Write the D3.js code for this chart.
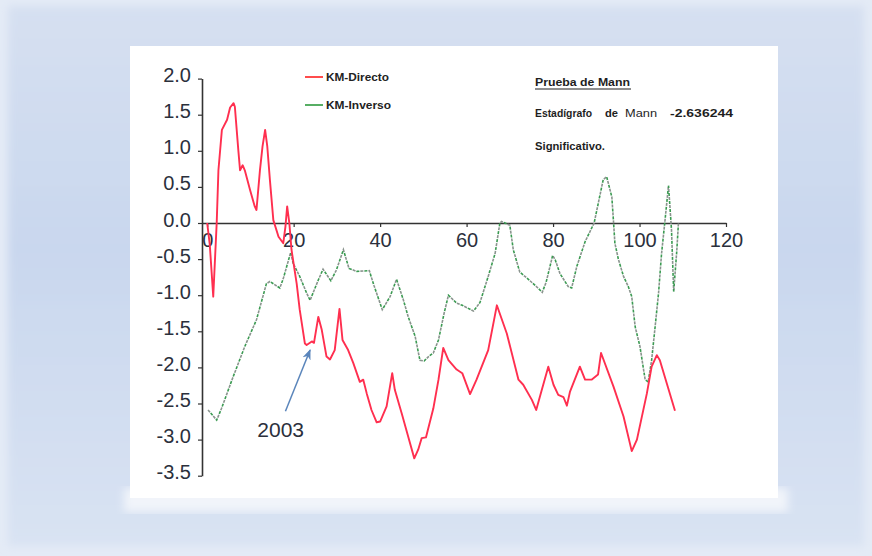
<!DOCTYPE html>
<html>
<head>
<meta charset="utf-8">
<script src="https://cdn.jsdelivr.net/npm/d3@7"></script>
<style>
  html, body { margin: 0; padding: 0; background: #e4ebf6; }
  svg { display: block; }
  text { font-family: "Liberation Sans", Arial, sans-serif; }
</style>
</head>
<body>
<svg id="chart" width="872" height="556"></svg>
<script>
// Mann-Kendall sequential statistics: forward (KM-Directo) and backward (KM-Inverso)
const kmDirecto = [
  [0, 0.0], [0.6, -0.3], [1.4, -1.02], [2.2, 0.0], [2.6, 0.73], [3.4, 1.29], [4.6, 1.43],
  [5.3, 1.6], [6.1, 1.66], [6.4, 1.61], [7.2, 1.01], [7.6, 0.73], [8.2, 0.8], [8.7, 0.73],
  [9.9, 0.46], [11.0, 0.23], [11.4, 0.18], [12.2, 0.73], [12.8, 1.06], [13.4, 1.29],
  [13.9, 1.06], [14.5, 0.6], [15.3, 0.04], [16.5, -0.19], [17.6, -0.28], [18.1, -0.05],
  [18.5, 0.23], [19.0, 0.0], [19.5, -0.37], [20.7, -0.84], [21.4, -1.2], [22.6, -1.67],
  [23.0, -1.69], [24.2, -1.64], [24.7, -1.66], [25.7, -1.30], [26.5, -1.48], [27.6, -1.85],
  [28.4, -1.89], [29.5, -1.76], [30.6, -1.19], [31.3, -1.62], [32.6, -1.76], [33.8, -1.94],
  [35.3, -2.2], [36.1, -2.17], [36.9, -2.36], [38.0, -2.59], [39.2, -2.76], [40.0, -2.75],
  [41.5, -2.54], [42.8, -2.08], [43.4, -2.31], [45.0, -2.64], [46.5, -2.96], [47.9, -3.26],
  [48.8, -3.14], [49.6, -2.98], [50.6, -2.97], [52.3, -2.57], [53.5, -2.17], [54.6, -1.73],
  [55.8, -1.9], [57.7, -2.03], [59.0, -2.08], [60.8, -2.37], [62.3, -2.17], [65.0, -1.76],
  [67.0, -1.14], [69.3, -1.53], [72.0, -2.17], [73.1, -2.24], [75.1, -2.45], [76.1, -2.59],
  [77.4, -2.31], [78.9, -1.99], [80.1, -2.24], [81.2, -2.38], [82.4, -2.41], [83.2, -2.53],
  [83.9, -2.34], [86.2, -1.99], [87.4, -2.17], [88.9, -2.17], [90.4, -2.1], [91.1, -1.8],
  [94.0, -2.27], [96.3, -2.68], [98.2, -3.16], [99.4, -3.0], [101.7, -2.36], [102.8, -1.99],
  [104.0, -1.83], [104.7, -1.9], [108.2, -2.6]
];

const kmInverso = [
  [0.2, -2.59], [2.2, -2.73], [3.3, -2.57], [6.0, -2.13], [8.7, -1.71], [11.4, -1.34],
  [13.7, -0.84], [14.5, -0.81], [16.8, -0.9], [17.6, -0.77], [19.3, -0.41], [19.9, -0.56],
  [21.4, -0.74], [23.0, -0.97], [23.8, -1.07], [25.7, -0.79], [26.8, -0.64], [28.6, -0.8],
  [29.9, -0.65], [31.5, -0.37], [32.8, -0.63], [34.6, -0.67], [37.5, -0.66], [38.6, -0.87],
  [40.5, -1.2], [42.3, -1.02], [43.8, -0.78], [45.4, -1.07], [46.5, -1.3], [48.1, -1.57],
  [49.2, -1.9], [50.2, -1.91], [51.2, -1.85], [52.3, -1.8], [53.5, -1.62], [54.8, -1.25],
  [55.8, -1.0], [57.7, -1.11], [59.0, -1.14], [61.6, -1.22], [63.1, -1.1], [65.0, -0.74],
  [66.6, -0.42], [67.7, 0.0], [68.1, 0.02], [70.0, -0.03], [70.8, -0.37], [72.3, -0.68],
  [74.3, -0.78], [76.5, -0.9], [77.5, -0.96], [78.4, -0.82], [79.9, -0.45], [80.5, -0.51],
  [81.6, -0.7], [83.5, -0.88], [84.3, -0.9], [85.5, -0.6], [87.4, -0.26], [89.5, 0.0],
  [91.6, 0.6], [92.4, 0.64], [93.6, 0.36], [94.0, 0.0], [94.3, -0.28], [95.1, -0.5],
  [96.3, -0.74], [97.4, -0.88], [98.2, -1.02], [99.0, -1.44], [100.1, -1.71], [101.3, -2.17],
  [102.0, -2.2], [102.8, -1.9], [103.6, -1.44], [104.4, -0.97], [105.1, -0.42], [105.9, 0.04],
  [106.7, 0.52], [107.4, -0.1], [107.9, -0.95], [108.6, -0.4], [109.0, 0.0]
];

const xTicks = [0, 20, 40, 60, 80, 100, 120];
const yTicks = [2.0, 1.5, 1.0, 0.5, 0.0, -0.5, -1.0, -1.5, -2.0, -2.5, -3.0, -3.5];
const seriesNames = ["KM-Directo", "KM-Inverso"];
const testTitle = "Prueba de Mann";
const statLabel = ["Estadígrafo", "de", "Mann"];
const statValue = "-2.636244";
const verdict = "Significativo.";
const markedYear = { label: "2003", x: 23.8, y: -1.76, textX: 17.0, textY: -2.87 };

const svg = d3.select("#chart");

// ---- page backdrop ----
const defs = svg.append("defs");
const bg = defs.append("linearGradient").attr("id", "bgGrad").attr("x1", 0).attr("y1", 0).attr("x2", 0).attr("y2", 1);
bg.append("stop").attr("offset", "0%").attr("stop-color", "#d6e0f1");
bg.append("stop").attr("offset", "45%").attr("stop-color", "#c9d7ee");
bg.append("stop").attr("offset", "100%").attr("stop-color", "#d9e3f3");
defs.append("filter").attr("id", "soft").attr("x", "-5%").attr("y", "-5%").attr("width", "110%").attr("height", "110%")
  .append("feGaussianBlur").attr("stdDeviation", 4);

svg.append("rect").attr("width", 872).attr("height", 556).attr("fill", "#e4ebf6");
svg.append("rect").attr("x", 8).attr("y", 6).attr("width", 856).attr("height", 540)
  .attr("fill", "url(#bgGrad)").attr("filter", "url(#soft)");
svg.append("rect").attr("x", 124).attr("y", 488).attr("width", 664).attr("height", 24)
  .attr("fill", "#f1f4fa").attr("filter", "url(#soft)");
svg.append("rect").attr("x", 130).attr("y", 46).attr("width", 648).attr("height", 452)
  .attr("fill", "#ffffff");

// ---- scales ----
const x = d3.scaleLinear().domain([-1.2, 120]).range([202, 726]);
const y = d3.scaleLinear().domain([-3.5, 2.0]).range([475.7, 78.6]);

// ---- axes ----
const axisColor = "#333333";
const labelColor = "#2b303c";

const xAxis = svg.append("g")
  .attr("transform", `translate(0,${y(0)})`)
  .call(d3.axisBottom(x).tickValues(xTicks).tickSize(4).tickSizeOuter(0).tickPadding(6)
    .tickFormat(d => String(d)));
xAxis.select(".domain").attr("stroke", axisColor).attr("stroke-width", 1.6);
xAxis.selectAll(".tick line").attr("stroke", axisColor).attr("stroke-width", 1.2);
xAxis.selectAll(".tick text").attr("fill", labelColor).attr("font-size", 20);

const yAxis = svg.append("g")
  .attr("transform", `translate(${x(-1.2)},0)`)
  .call(d3.axisLeft(y).tickValues(yTicks).tickSize(4).tickSizeOuter(0).tickPadding(7)
    .tickFormat(d => d.toFixed(1)));
yAxis.select(".domain").attr("stroke", axisColor).attr("stroke-width", 1.6);
yAxis.selectAll(".tick line").attr("stroke", axisColor).attr("stroke-width", 1.2);
yAxis.selectAll(".tick text").attr("fill", labelColor).attr("font-size", 20).attr("dy", "0.15em");

// ---- series ----
const line = d3.line().x(d => x(d[0])).y(d => y(d[1]));

// backward statistic: short dashes alternating grey and green
svg.append("path").datum(kmInverso).attr("d", line)
  .attr("fill", "none").attr("stroke", "#8a948e").attr("stroke-width", 1.6)
  .attr("stroke-dasharray", "3,5");
svg.append("path").datum(kmInverso).attr("d", line)
  .attr("fill", "none").attr("stroke", "#3b9a52").attr("stroke-width", 1.6)
  .attr("stroke-dasharray", "3,5").attr("stroke-dashoffset", 4);

// forward statistic
svg.append("path").datum(kmDirecto).attr("d", line)
  .attr("fill", "none").attr("stroke", "#ff2f4f").attr("stroke-width", 1.9)
  .attr("stroke-linejoin", "round");

// ---- legend ----
const legendColors = ["#ff2020", "#2e9a3e"];
const legendRows = [77, 105];
const legendTextLen = [63, 65];
seriesNames.forEach((name, i) => {
  svg.append("line").attr("x1", 305).attr("x2", 323)
    .attr("y1", legendRows[i]).attr("y2", legendRows[i])
    .attr("stroke", legendColors[i]).attr("stroke-width", 1.6);
  svg.append("text").attr("x", 326).attr("y", legendRows[i] + 3.5)
    .attr("font-size", 10.5).attr("font-weight", "bold").attr("fill", "#222")
    .attr("textLength", legendTextLen[i]).attr("lengthAdjust", "spacingAndGlyphs")
    .text(name);
});

// ---- test summary ----
const info = svg.append("g").attr("fill", "#1e1e1e").attr("font-size", 10.5).attr("font-weight", "bold");
info.append("text").attr("x", 535).attr("y", 86).attr("textLength", 95)
  .attr("lengthAdjust", "spacingAndGlyphs").text(testTitle);
info.append("line").attr("x1", 535).attr("x2", 631).attr("y1", 89).attr("y2", 89)
  .attr("stroke", "#1e1e1e").attr("stroke-width", 1.1);
info.append("text").attr("x", 535).attr("y", 117).attr("textLength", 57)
  .attr("lengthAdjust", "spacingAndGlyphs").text(statLabel[0]);
info.append("text").attr("x", 605).attr("y", 117).attr("textLength", 13)
  .attr("lengthAdjust", "spacingAndGlyphs").text(statLabel[1]);
info.append("text").attr("x", 625).attr("y", 117).attr("textLength", 32)
  .attr("lengthAdjust", "spacingAndGlyphs").attr("font-weight", "normal").text(statLabel[2]);
info.append("text").attr("x", 670).attr("y", 117).attr("textLength", 63)
  .attr("lengthAdjust", "spacingAndGlyphs").text(statValue);
info.append("text").attr("x", 535).attr("y", 150).attr("textLength", 70)
  .attr("lengthAdjust", "spacingAndGlyphs").text(verdict);

// ---- change-point annotation ----
defs.append("marker").attr("id", "arrowHead").attr("viewBox", "0 0 10 10")
  .attr("refX", 9).attr("refY", 5).attr("markerWidth", 7).attr("markerHeight", 7)
  .attr("orient", "auto")
  .append("path").attr("d", "M0,1 L10,5 L0,9 L3,5 Z").attr("fill", "#5a85bb");

svg.append("line")
  .attr("x1", x(markedYear.textX + 1.1)).attr("y1", y(markedYear.textY) - 19)
  .attr("x2", x(markedYear.x)).attr("y2", y(markedYear.y))
  .attr("stroke", "#5a85bb").attr("stroke-width", 1.5)
  .attr("marker-end", "url(#arrowHead)");

svg.append("text").attr("x", x(markedYear.textX)).attr("y", y(markedYear.textY) + 7)
  .attr("text-anchor", "middle").attr("font-size", 21).attr("fill", "#2b303c")
  .text(markedYear.label);
</script>
</body>
</html>
